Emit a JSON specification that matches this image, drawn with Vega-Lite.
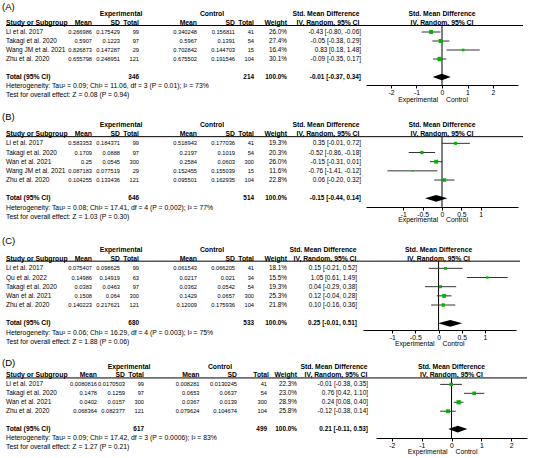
{
"$schema":"https://vega.github.io/schema/vega-lite/v6.json",
"padding":0,
"bounds":"flush",
"spacing":0,
"datasets":{
"studies":[
{"panel":"A","study":"Li et al. 2017","em":0.266986,"esd":0.175429,"et":99,"cm":0.340248,"csd":0.156811,"ct":41,"w":0.26,"smd":-0.43,"lo":-0.80,"hi":-0.06},
{"panel":"A","study":"Takagi et al. 2020","em":0.5907,"esd":0.1223,"et":97,"cm":0.5967,"csd":0.1391,"ct":54,"w":0.274,"smd":-0.05,"lo":-0.38,"hi":0.29},
{"panel":"A","study":"Wang JM et al. 2021","em":0.826873,"esd":0.147287,"et":29,"cm":0.702842,"csd":0.144703,"ct":15,"w":0.164,"smd":0.83,"lo":0.18,"hi":1.48},
{"panel":"A","study":"Zhu et al. 2020","em":0.655798,"esd":0.248951,"et":121,"cm":0.675502,"csd":0.191546,"ct":104,"w":0.301,"smd":-0.09,"lo":-0.35,"hi":0.17},
{"panel":"B","study":"Li et al. 2017","em":0.583353,"esd":0.184371,"et":99,"cm":0.518943,"csd":0.177036,"ct":41,"w":0.193,"smd":0.35,"lo":-0.01,"hi":0.72},
{"panel":"B","study":"Takagi et al. 2020","em":0.1709,"esd":0.0888,"et":97,"cm":0.2197,"csd":0.1019,"ct":54,"w":0.203,"smd":-0.52,"lo":-0.86,"hi":-0.18},
{"panel":"B","study":"Wan et al.  2021","em":0.25,"esd":0.0545,"et":300,"cm":0.2584,"csd":0.0603,"ct":300,"w":0.26,"smd":-0.15,"lo":-0.31,"hi":0.01},
{"panel":"B","study":"Wang JM et al. 2021","em":0.087183,"esd":0.077519,"et":29,"cm":0.152455,"csd":0.155039,"ct":15,"w":0.116,"smd":-0.76,"lo":-1.41,"hi":-0.12},
{"panel":"B","study":"Zhu et al. 2020","em":0.104255,"esd":0.133436,"et":121,"cm":0.095501,"csd":0.162935,"ct":104,"w":0.228,"smd":0.06,"lo":-0.20,"hi":0.32},
{"panel":"C","study":"Li et al. 2017","em":0.075407,"esd":0.098625,"et":99,"cm":0.061543,"csd":0.066205,"ct":41,"w":0.181,"smd":0.15,"lo":-0.21,"hi":0.52},
{"panel":"C","study":"Qu et al. 2022","em":0.14986,"esd":0.14919,"et":63,"cm":0.0217,"csd":0.021,"ct":34,"w":0.155,"smd":1.05,"lo":0.61,"hi":1.49},
{"panel":"C","study":"Takagi et al. 2020","em":0.0383,"esd":0.0463,"et":97,"cm":0.0362,"csd":0.0542,"ct":54,"w":0.193,"smd":0.04,"lo":-0.29,"hi":0.38},
{"panel":"C","study":"Wan et al.  2021","em":0.1508,"esd":0.064,"et":300,"cm":0.1429,"csd":0.0657,"ct":300,"w":0.253,"smd":0.12,"lo":-0.04,"hi":0.28},
{"panel":"C","study":"Zhu et al. 2020","em":0.140223,"esd":0.217621,"et":121,"cm":0.12009,"csd":0.175936,"ct":104,"w":0.218,"smd":0.10,"lo":-0.16,"hi":0.36},
{"panel":"D","study":"Li et al. 2017","em":0.0080816,"esd":0.0170503,"et":99,"cm":0.008281,"csd":0.0130245,"ct":41,"w":0.223,"smd":-0.01,"lo":-0.38,"hi":0.35},
{"panel":"D","study":"Takagi et al. 2020","em":0.1478,"esd":0.1259,"et":97,"cm":0.0653,"csd":0.0637,"ct":54,"w":0.23,"smd":0.76,"lo":0.42,"hi":1.10},
{"panel":"D","study":"Wan et al.  2021","em":0.0402,"esd":0.0157,"et":300,"cm":0.0367,"csd":0.0139,"ct":300,"w":0.289,"smd":0.24,"lo":0.08,"hi":0.40},
{"panel":"D","study":"Zhu et al. 2020","em":0.068364,"esd":0.082377,"et":121,"cm":0.079624,"csd":0.104674,"ct":104,"w":0.258,"smd":-0.12,"lo":-0.38,"hi":0.14}
],
"totals":[
{"panel":"A","study":"Total (95% CI)","et":346,"ct":214,"smd":-0.01,"lo":-0.37,"hi":0.34,"het":"Heterogeneity: Tau² = 0.09; Chi² = 11.06, df = 3 (P = 0.01); I² = 73%","test":"Test for overall effect: Z = 0.08 (P = 0.94)"},
{"panel":"B","study":"Total (95% CI)","et":646,"ct":514,"smd":-0.15,"lo":-0.44,"hi":0.14,"het":"Heterogeneity: Tau² = 0.08; Chi² = 17.41, df = 4 (P = 0.002); I² = 77%","test":"Test for overall effect: Z = 1.03 (P = 0.30)"},
{"panel":"C","study":"Total (95% CI)","et":680,"ct":533,"smd":0.25,"lo":-0.01,"hi":0.51,"het":"Heterogeneity: Tau² = 0.06; Chi² = 16.29, df = 4 (P = 0.003); I² = 75%","test":"Test for overall effect: Z = 1.88 (P = 0.06)"},
{"panel":"D","study":"Total (95% CI)","et":617,"ct":499,"smd":0.21,"lo":-0.11,"hi":0.53,"het":"Heterogeneity: Tau² = 0.09; Chi² = 17.42, df = 3 (P = 0.0006); I² = 83%","test":"Test for overall effect: Z = 1.27 (P = 0.21)"}
]
},
"vconcat":[
{
"width":534,"height":85,
"resolve":{"scale":{"x":"independent"},"axis":{"x":"independent"}},
"layer":[
{"layer":[
{"data":{"name":"studies"},"transform":[{"filter":"datum.panel==='A'"},{"calculate":"replace(replace(replace(format(datum.smd,'.2f')+' ['+format(datum.lo,'.2f')+', '+format(datum.hi,'.2f')+']','−','-'),'−','-'),'−','-')","as":"ci"}],
"encoding":{"y":{"field":"study","type":"nominal","scale":{"type":"point","domain":["h1","h2","Li et al. 2017","Takagi et al. 2020","Wang JM et al. 2021","Zhu et al. 2020","gap","Total (95% CI)","het","test"],"range":[14,95],"padding":0},"axis":null}},
"layer":[
{"mark":{"type":"text","align":"left","fontSize":6.5},"encoding":{"x":{"datum":6,"type":"quantitative","scale":{"domain":[0,534],"range":[0,534],"nice":false,"zero":false},"axis":null},"text":{"field":"study","type":"nominal"}}},
{"mark":{"type":"text","align":"right","fontSize":5.7},"encoding":{"x":{"datum":92,"type":"quantitative","scale":{"domain":[0,534],"range":[0,534],"nice":false,"zero":false},"axis":null},"text":{"field":"em","type":"nominal"}}},
{"mark":{"type":"text","align":"right","fontSize":5.7},"encoding":{"x":{"datum":120,"type":"quantitative","scale":{"domain":[0,534],"range":[0,534],"nice":false,"zero":false},"axis":null},"text":{"field":"esd","type":"nominal"}}},
{"mark":{"type":"text","align":"right","fontSize":5.7},"encoding":{"x":{"datum":139,"type":"quantitative","scale":{"domain":[0,534],"range":[0,534],"nice":false,"zero":false},"axis":null},"text":{"field":"et","type":"nominal"}}},
{"mark":{"type":"text","align":"right","fontSize":5.7},"encoding":{"x":{"datum":197,"type":"quantitative","scale":{"domain":[0,534],"range":[0,534],"nice":false,"zero":false},"axis":null},"text":{"field":"cm","type":"nominal"}}},
{"mark":{"type":"text","align":"right","fontSize":5.7},"encoding":{"x":{"datum":235,"type":"quantitative","scale":{"domain":[0,534],"range":[0,534],"nice":false,"zero":false},"axis":null},"text":{"field":"csd","type":"nominal"}}},
{"mark":{"type":"text","align":"right","fontSize":5.7},"encoding":{"x":{"datum":254,"type":"quantitative","scale":{"domain":[0,534],"range":[0,534],"nice":false,"zero":false},"axis":null},"text":{"field":"ct","type":"nominal"}}},
{"mark":{"type":"text","align":"right","fontSize":6.4},"encoding":{"x":{"datum":287,"type":"quantitative","scale":{"domain":[0,534],"range":[0,534],"nice":false,"zero":false},"axis":null},"text":{"field":"w","type":"quantitative","format":".1%"}}},
{"mark":{"type":"text","align":"right","fontSize":6.4},"encoding":{"x":{"datum":361,"type":"quantitative","scale":{"domain":[0,534],"range":[0,534],"nice":false,"zero":false},"axis":null},"text":{"field":"ci","type":"nominal"}}}
]},
{"data":{"name":"totals"},"transform":[{"filter":"datum.panel==='A'"},{"calculate":"replace(replace(replace(format(datum.smd,'.2f')+' ['+format(datum.lo,'.2f')+', '+format(datum.hi,'.2f')+']','−','-'),'−','-'),'−','-')","as":"ci"}],
"encoding":{"y":{"field":"study","type":"nominal","scale":{"type":"point","domain":["h1","h2","Li et al. 2017","Takagi et al. 2020","Wang JM et al. 2021","Zhu et al. 2020","gap","Total (95% CI)","het","test"],"range":[14,95],"padding":0},"axis":null}},
"layer":[
{"mark":{"type":"text","align":"left","fontWeight":"bold"},"encoding":{"x":{"datum":6,"type":"quantitative","scale":{"domain":[0,534],"range":[0,534],"nice":false,"zero":false},"axis":null},"text":{"field":"study","type":"nominal"}}},
{"mark":{"type":"text","align":"right","fontWeight":"bold","fontSize":6.4},"encoding":{"x":{"datum":139,"type":"quantitative","scale":{"domain":[0,534],"range":[0,534],"nice":false,"zero":false},"axis":null},"text":{"field":"et","type":"nominal"}}},
{"mark":{"type":"text","align":"right","fontWeight":"bold","fontSize":6.4},"encoding":{"x":{"datum":254,"type":"quantitative","scale":{"domain":[0,534],"range":[0,534],"nice":false,"zero":false},"axis":null},"text":{"field":"ct","type":"nominal"}}},
{"mark":{"type":"text","align":"right","fontWeight":"bold","fontSize":6.4,"text":"100.0%"},"encoding":{"x":{"datum":287,"type":"quantitative","scale":{"domain":[0,534],"range":[0,534],"nice":false,"zero":false},"axis":null}}},
{"mark":{"type":"text","align":"right","fontWeight":"bold","fontSize":6.4},"encoding":{"x":{"datum":361,"type":"quantitative","scale":{"domain":[0,534],"range":[0,534],"nice":false,"zero":false},"axis":null},"text":{"field":"ci","type":"nominal"}}},
{"mark":{"type":"text","align":"left"},"encoding":{"x":{"datum":6,"type":"quantitative","scale":{"domain":[0,534],"range":[0,534],"nice":false,"zero":false},"axis":null},"y":{"datum":"het","type":"nominal","scale":{"type":"point","domain":["h1","h2","Li et al. 2017","Takagi et al. 2020","Wang JM et al. 2021","Zhu et al. 2020","gap","Total (95% CI)","het","test"],"range":[14,95],"padding":0},"axis":null},"text":{"field":"het","type":"nominal"}}},
{"mark":{"type":"text","align":"left"},"encoding":{"x":{"datum":6,"type":"quantitative","scale":{"domain":[0,534],"range":[0,534],"nice":false,"zero":false},"axis":null},"y":{"datum":"test","type":"nominal","scale":{"type":"point","domain":["h1","h2","Li et al. 2017","Takagi et al. 2020","Wang JM et al. 2021","Zhu et al. 2020","gap","Total (95% CI)","het","test"],"range":[14,95],"padding":0},"axis":null},"text":{"field":"test","type":"nominal"}}}
]},
{"data":{"values":[{}]},
"encoding":{"y":{"datum":"h2","type":"nominal","scale":{"type":"point","domain":["h1","h2","Li et al. 2017","Takagi et al. 2020","Wang JM et al. 2021","Zhu et al. 2020","gap","Total (95% CI)","het","test"],"range":[14,95],"padding":0},"axis":null}},
"layer":[
{"mark":{"type":"text","text":"(A)","align":"left","fontSize":9.5,"dy":-7},"encoding":{"x":{"datum":2,"type":"quantitative","scale":{"domain":[0,534],"range":[0,534],"nice":false,"zero":false},"axis":null},"y":{"datum":"h1","type":"nominal","scale":{"type":"point","domain":["h1","h2","Li et al. 2017","Takagi et al. 2020","Wang JM et al. 2021","Zhu et al. 2020","gap","Total (95% CI)","het","test"],"range":[14,95],"padding":0},"axis":null}}},
{"mark":{"type":"text","text":"Experimental","align":"center","fontWeight":"bold"},"encoding":{"x":{"datum":121,"type":"quantitative","scale":{"domain":[0,534],"range":[0,534],"nice":false,"zero":false},"axis":null},"y":{"datum":"h1","type":"nominal","scale":{"type":"point","domain":["h1","h2","Li et al. 2017","Takagi et al. 2020","Wang JM et al. 2021","Zhu et al. 2020","gap","Total (95% CI)","het","test"],"range":[14,95],"padding":0},"axis":null}}},
{"mark":{"type":"text","text":"Control","align":"center","fontWeight":"bold"},"encoding":{"x":{"datum":212,"type":"quantitative","scale":{"domain":[0,534],"range":[0,534],"nice":false,"zero":false},"axis":null},"y":{"datum":"h1","type":"nominal","scale":{"type":"point","domain":["h1","h2","Li et al. 2017","Takagi et al. 2020","Wang JM et al. 2021","Zhu et al. 2020","gap","Total (95% CI)","het","test"],"range":[14,95],"padding":0},"axis":null}}},
{"mark":{"type":"text","text":"Std. Mean Difference","align":"center","fontWeight":"bold"},"encoding":{"x":{"datum":326,"type":"quantitative","scale":{"domain":[0,534],"range":[0,534],"nice":false,"zero":false},"axis":null},"y":{"datum":"h1","type":"nominal","scale":{"type":"point","domain":["h1","h2","Li et al. 2017","Takagi et al. 2020","Wang JM et al. 2021","Zhu et al. 2020","gap","Total (95% CI)","het","test"],"range":[14,95],"padding":0},"axis":null}}},
{"mark":{"type":"text","text":"Study or Subgroup","align":"left","fontWeight":"bold"},"encoding":{"x":{"datum":6,"type":"quantitative","scale":{"domain":[0,534],"range":[0,534],"nice":false,"zero":false},"axis":null}}},
{"mark":{"type":"text","text":"Mean","align":"right","fontWeight":"bold"},"encoding":{"x":{"datum":92,"type":"quantitative","scale":{"domain":[0,534],"range":[0,534],"nice":false,"zero":false},"axis":null}}},
{"mark":{"type":"text","text":"SD","align":"right","fontWeight":"bold"},"encoding":{"x":{"datum":120,"type":"quantitative","scale":{"domain":[0,534],"range":[0,534],"nice":false,"zero":false},"axis":null}}},
{"mark":{"type":"text","text":"Total","align":"right","fontWeight":"bold"},"encoding":{"x":{"datum":139,"type":"quantitative","scale":{"domain":[0,534],"range":[0,534],"nice":false,"zero":false},"axis":null}}},
{"mark":{"type":"text","text":"Mean","align":"right","fontWeight":"bold"},"encoding":{"x":{"datum":197,"type":"quantitative","scale":{"domain":[0,534],"range":[0,534],"nice":false,"zero":false},"axis":null}}},
{"mark":{"type":"text","text":"SD","align":"right","fontWeight":"bold"},"encoding":{"x":{"datum":235,"type":"quantitative","scale":{"domain":[0,534],"range":[0,534],"nice":false,"zero":false},"axis":null}}},
{"mark":{"type":"text","text":"Total","align":"right","fontWeight":"bold"},"encoding":{"x":{"datum":254,"type":"quantitative","scale":{"domain":[0,534],"range":[0,534],"nice":false,"zero":false},"axis":null}}},
{"mark":{"type":"text","text":"Weight","align":"right","fontWeight":"bold"},"encoding":{"x":{"datum":287,"type":"quantitative","scale":{"domain":[0,534],"range":[0,534],"nice":false,"zero":false},"axis":null}}},
{"mark":{"type":"text","text":"IV, Random, 95% CI","align":"center","fontWeight":"bold"},"encoding":{"x":{"datum":328,"type":"quantitative","scale":{"domain":[0,534],"range":[0,534],"nice":false,"zero":false},"axis":null}}},
{"mark":{"type":"rule","color":"#000","strokeWidth":1,"yOffset":2.5},"encoding":{"x":{"datum":6,"type":"quantitative","scale":{"domain":[0,534],"range":[0,534],"nice":false,"zero":false},"axis":null},"x2":{"datum":523}}}
]}
]},
{"layer":[
{"data":{"values":[{}]},
"layer":[
{"mark":{"type":"rule","color":"#000","strokeWidth":1,"yOffset":2.5},"encoding":{"x":{"datum":0,"type":"quantitative","scale":{"domain":[-2.98,2.98],"range":[366,518],"nice":false,"zero":false},"axis":{"values":[-2,-1,0,1,2],"format":"~g","labelExpr":"replace(datum.label,'−','-')","title":null,"labelOverlap":false,"labelFlush":false}},"y":{"datum":"h2","type":"nominal","scale":{"type":"point","domain":["h1","h2","Li et al. 2017","Takagi et al. 2020","Wang JM et al. 2021","Zhu et al. 2020","gap","Total (95% CI)","het","test"],"range":[14,95],"padding":0},"axis":null},"y2":{"value":"height"}}},
{"mark":{"type":"text","text":"Std. Mean Difference","align":"center","fontWeight":"bold"},"encoding":{"x":{"datum":0,"type":"quantitative","scale":{"domain":[-2.98,2.98],"range":[366,518],"nice":false,"zero":false}},"y":{"datum":"h1","type":"nominal","scale":{"type":"point","domain":["h1","h2","Li et al. 2017","Takagi et al. 2020","Wang JM et al. 2021","Zhu et al. 2020","gap","Total (95% CI)","het","test"],"range":[14,95],"padding":0},"axis":null}}},
{"mark":{"type":"text","text":"IV, Random, 95% CI","align":"center","fontWeight":"bold"},"encoding":{"x":{"datum":0,"type":"quantitative","scale":{"domain":[-2.98,2.98],"range":[366,518],"nice":false,"zero":false}},"y":{"datum":"h2","type":"nominal","scale":{"type":"point","domain":["h1","h2","Li et al. 2017","Takagi et al. 2020","Wang JM et al. 2021","Zhu et al. 2020","gap","Total (95% CI)","het","test"],"range":[14,95],"padding":0},"axis":null}}},
{"mark":{"type":"text","text":"Experimental","align":"right","dx":-4,"dy":15},"encoding":{"x":{"datum":0,"type":"quantitative","scale":{"domain":[-2.98,2.98],"range":[366,518],"nice":false,"zero":false}},"y":{"value":"height"}}},
{"mark":{"type":"text","text":"Control","align":"left","dx":4,"dy":15},"encoding":{"x":{"datum":0,"type":"quantitative","scale":{"domain":[-2.98,2.98],"range":[366,518],"nice":false,"zero":false}},"y":{"value":"height"}}}
]},
{"data":{"name":"studies"},"transform":[{"filter":"datum.panel==='A'"}],
"encoding":{"y":{"field":"study","type":"nominal","scale":{"type":"point","domain":["h1","h2","Li et al. 2017","Takagi et al. 2020","Wang JM et al. 2021","Zhu et al. 2020","gap","Total (95% CI)","het","test"],"range":[14,95],"padding":0},"axis":null}},
"layer":[
{"mark":{"type":"rule","color":"#333","strokeWidth":1},"encoding":{"x":{"field":"lo","type":"quantitative","scale":{"domain":[-2.98,2.98],"range":[366,518],"nice":false,"zero":false}},"x2":{"field":"hi"}}},
{"mark":{"type":"point","shape":"square","filled":true,"color":"#00b400","opacity":1},"encoding":{"x":{"field":"smd","type":"quantitative","scale":{"domain":[-2.98,2.98],"range":[366,518],"nice":false,"zero":false}},"size":{"field":"w","type":"quantitative","scale":{"domain":[0.1,0.31],"range":[1,20],"zero":false},"legend":null}}}
]},
{"data":{"name":"totals"},"transform":[{"filter":"datum.panel==='A'"}],
"mark":{"type":"point","shape":"M-1,0L0,-0.365L1,0L0,0.365Z","filled":true,"color":"#000","opacity":1,"size":328},
"encoding":{"x":{"field":"smd","type":"quantitative","scale":{"domain":[-2.98,2.98],"range":[366,518],"nice":false,"zero":false}},"y":{"field":"study","type":"nominal","scale":{"type":"point","domain":["h1","h2","Li et al. 2017","Takagi et al. 2020","Wang JM et al. 2021","Zhu et al. 2020","gap","Total (95% CI)","het","test"],"range":[14,95],"padding":0},"axis":null}}}
]}
]
},
{
"width":534,"height":122,
"resolve":{"scale":{"x":"independent"},"axis":{"x":"independent"}},
"layer":[
{"layer":[
{"data":{"name":"studies"},"transform":[{"filter":"datum.panel==='B'"},{"calculate":"replace(replace(replace(format(datum.smd,'.2f')+' ['+format(datum.lo,'.2f')+', '+format(datum.hi,'.2f')+']','−','-'),'−','-'),'−','-')","as":"ci"}],
"encoding":{"y":{"field":"study","type":"nominal","scale":{"type":"point","domain":["h1","h2","Li et al. 2017","Takagi et al. 2020","Wan et al.  2021","Wang JM et al. 2021","Zhu et al. 2020","gap","Total (95% CI)","het","test"],"range":[40,131.7],"padding":0},"axis":null}},
"layer":[
{"mark":{"type":"text","align":"left","fontSize":6.5},"encoding":{"x":{"datum":6,"type":"quantitative","scale":{"domain":[0,534],"range":[0,534],"nice":false,"zero":false},"axis":null},"text":{"field":"study","type":"nominal"}}},
{"mark":{"type":"text","align":"right","fontSize":5.7},"encoding":{"x":{"datum":92,"type":"quantitative","scale":{"domain":[0,534],"range":[0,534],"nice":false,"zero":false},"axis":null},"text":{"field":"em","type":"nominal"}}},
{"mark":{"type":"text","align":"right","fontSize":5.7},"encoding":{"x":{"datum":120,"type":"quantitative","scale":{"domain":[0,534],"range":[0,534],"nice":false,"zero":false},"axis":null},"text":{"field":"esd","type":"nominal"}}},
{"mark":{"type":"text","align":"right","fontSize":5.7},"encoding":{"x":{"datum":139,"type":"quantitative","scale":{"domain":[0,534],"range":[0,534],"nice":false,"zero":false},"axis":null},"text":{"field":"et","type":"nominal"}}},
{"mark":{"type":"text","align":"right","fontSize":5.7},"encoding":{"x":{"datum":197,"type":"quantitative","scale":{"domain":[0,534],"range":[0,534],"nice":false,"zero":false},"axis":null},"text":{"field":"cm","type":"nominal"}}},
{"mark":{"type":"text","align":"right","fontSize":5.7},"encoding":{"x":{"datum":235,"type":"quantitative","scale":{"domain":[0,534],"range":[0,534],"nice":false,"zero":false},"axis":null},"text":{"field":"csd","type":"nominal"}}},
{"mark":{"type":"text","align":"right","fontSize":5.7},"encoding":{"x":{"datum":254,"type":"quantitative","scale":{"domain":[0,534],"range":[0,534],"nice":false,"zero":false},"axis":null},"text":{"field":"ct","type":"nominal"}}},
{"mark":{"type":"text","align":"right","fontSize":6.4},"encoding":{"x":{"datum":287,"type":"quantitative","scale":{"domain":[0,534],"range":[0,534],"nice":false,"zero":false},"axis":null},"text":{"field":"w","type":"quantitative","format":".1%"}}},
{"mark":{"type":"text","align":"right","fontSize":6.4},"encoding":{"x":{"datum":361,"type":"quantitative","scale":{"domain":[0,534],"range":[0,534],"nice":false,"zero":false},"axis":null},"text":{"field":"ci","type":"nominal"}}}
]},
{"data":{"name":"totals"},"transform":[{"filter":"datum.panel==='B'"},{"calculate":"replace(replace(replace(format(datum.smd,'.2f')+' ['+format(datum.lo,'.2f')+', '+format(datum.hi,'.2f')+']','−','-'),'−','-'),'−','-')","as":"ci"}],
"encoding":{"y":{"field":"study","type":"nominal","scale":{"type":"point","domain":["h1","h2","Li et al. 2017","Takagi et al. 2020","Wan et al.  2021","Wang JM et al. 2021","Zhu et al. 2020","gap","Total (95% CI)","het","test"],"range":[40,131.7],"padding":0},"axis":null}},
"layer":[
{"mark":{"type":"text","align":"left","fontWeight":"bold"},"encoding":{"x":{"datum":6,"type":"quantitative","scale":{"domain":[0,534],"range":[0,534],"nice":false,"zero":false},"axis":null},"text":{"field":"study","type":"nominal"}}},
{"mark":{"type":"text","align":"right","fontWeight":"bold","fontSize":6.4},"encoding":{"x":{"datum":139,"type":"quantitative","scale":{"domain":[0,534],"range":[0,534],"nice":false,"zero":false},"axis":null},"text":{"field":"et","type":"nominal"}}},
{"mark":{"type":"text","align":"right","fontWeight":"bold","fontSize":6.4},"encoding":{"x":{"datum":254,"type":"quantitative","scale":{"domain":[0,534],"range":[0,534],"nice":false,"zero":false},"axis":null},"text":{"field":"ct","type":"nominal"}}},
{"mark":{"type":"text","align":"right","fontWeight":"bold","fontSize":6.4,"text":"100.0%"},"encoding":{"x":{"datum":287,"type":"quantitative","scale":{"domain":[0,534],"range":[0,534],"nice":false,"zero":false},"axis":null}}},
{"mark":{"type":"text","align":"right","fontWeight":"bold","fontSize":6.4},"encoding":{"x":{"datum":361,"type":"quantitative","scale":{"domain":[0,534],"range":[0,534],"nice":false,"zero":false},"axis":null},"text":{"field":"ci","type":"nominal"}}},
{"mark":{"type":"text","align":"left"},"encoding":{"x":{"datum":6,"type":"quantitative","scale":{"domain":[0,534],"range":[0,534],"nice":false,"zero":false},"axis":null},"y":{"datum":"het","type":"nominal","scale":{"type":"point","domain":["h1","h2","Li et al. 2017","Takagi et al. 2020","Wan et al.  2021","Wang JM et al. 2021","Zhu et al. 2020","gap","Total (95% CI)","het","test"],"range":[40,131.7],"padding":0},"axis":null},"text":{"field":"het","type":"nominal"}}},
{"mark":{"type":"text","align":"left"},"encoding":{"x":{"datum":6,"type":"quantitative","scale":{"domain":[0,534],"range":[0,534],"nice":false,"zero":false},"axis":null},"y":{"datum":"test","type":"nominal","scale":{"type":"point","domain":["h1","h2","Li et al. 2017","Takagi et al. 2020","Wan et al.  2021","Wang JM et al. 2021","Zhu et al. 2020","gap","Total (95% CI)","het","test"],"range":[40,131.7],"padding":0},"axis":null},"text":{"field":"test","type":"nominal"}}}
]},
{"data":{"values":[{}]},
"encoding":{"y":{"datum":"h2","type":"nominal","scale":{"type":"point","domain":["h1","h2","Li et al. 2017","Takagi et al. 2020","Wan et al.  2021","Wang JM et al. 2021","Zhu et al. 2020","gap","Total (95% CI)","het","test"],"range":[40,131.7],"padding":0},"axis":null}},
"layer":[
{"mark":{"type":"text","text":"(B)","align":"left","fontSize":9.5,"dy":-8},"encoding":{"x":{"datum":2,"type":"quantitative","scale":{"domain":[0,534],"range":[0,534],"nice":false,"zero":false},"axis":null},"y":{"datum":"h1","type":"nominal","scale":{"type":"point","domain":["h1","h2","Li et al. 2017","Takagi et al. 2020","Wan et al.  2021","Wang JM et al. 2021","Zhu et al. 2020","gap","Total (95% CI)","het","test"],"range":[40,131.7],"padding":0},"axis":null}}},
{"mark":{"type":"text","text":"Experimental","align":"center","fontWeight":"bold"},"encoding":{"x":{"datum":121,"type":"quantitative","scale":{"domain":[0,534],"range":[0,534],"nice":false,"zero":false},"axis":null},"y":{"datum":"h1","type":"nominal","scale":{"type":"point","domain":["h1","h2","Li et al. 2017","Takagi et al. 2020","Wan et al.  2021","Wang JM et al. 2021","Zhu et al. 2020","gap","Total (95% CI)","het","test"],"range":[40,131.7],"padding":0},"axis":null}}},
{"mark":{"type":"text","text":"Control","align":"center","fontWeight":"bold"},"encoding":{"x":{"datum":212,"type":"quantitative","scale":{"domain":[0,534],"range":[0,534],"nice":false,"zero":false},"axis":null},"y":{"datum":"h1","type":"nominal","scale":{"type":"point","domain":["h1","h2","Li et al. 2017","Takagi et al. 2020","Wan et al.  2021","Wang JM et al. 2021","Zhu et al. 2020","gap","Total (95% CI)","het","test"],"range":[40,131.7],"padding":0},"axis":null}}},
{"mark":{"type":"text","text":"Std. Mean Difference","align":"center","fontWeight":"bold"},"encoding":{"x":{"datum":326,"type":"quantitative","scale":{"domain":[0,534],"range":[0,534],"nice":false,"zero":false},"axis":null},"y":{"datum":"h1","type":"nominal","scale":{"type":"point","domain":["h1","h2","Li et al. 2017","Takagi et al. 2020","Wan et al.  2021","Wang JM et al. 2021","Zhu et al. 2020","gap","Total (95% CI)","het","test"],"range":[40,131.7],"padding":0},"axis":null}}},
{"mark":{"type":"text","text":"Study or Subgroup","align":"left","fontWeight":"bold"},"encoding":{"x":{"datum":6,"type":"quantitative","scale":{"domain":[0,534],"range":[0,534],"nice":false,"zero":false},"axis":null}}},
{"mark":{"type":"text","text":"Mean","align":"right","fontWeight":"bold"},"encoding":{"x":{"datum":92,"type":"quantitative","scale":{"domain":[0,534],"range":[0,534],"nice":false,"zero":false},"axis":null}}},
{"mark":{"type":"text","text":"SD","align":"right","fontWeight":"bold"},"encoding":{"x":{"datum":120,"type":"quantitative","scale":{"domain":[0,534],"range":[0,534],"nice":false,"zero":false},"axis":null}}},
{"mark":{"type":"text","text":"Total","align":"right","fontWeight":"bold"},"encoding":{"x":{"datum":139,"type":"quantitative","scale":{"domain":[0,534],"range":[0,534],"nice":false,"zero":false},"axis":null}}},
{"mark":{"type":"text","text":"Mean","align":"right","fontWeight":"bold"},"encoding":{"x":{"datum":197,"type":"quantitative","scale":{"domain":[0,534],"range":[0,534],"nice":false,"zero":false},"axis":null}}},
{"mark":{"type":"text","text":"SD","align":"right","fontWeight":"bold"},"encoding":{"x":{"datum":235,"type":"quantitative","scale":{"domain":[0,534],"range":[0,534],"nice":false,"zero":false},"axis":null}}},
{"mark":{"type":"text","text":"Total","align":"right","fontWeight":"bold"},"encoding":{"x":{"datum":254,"type":"quantitative","scale":{"domain":[0,534],"range":[0,534],"nice":false,"zero":false},"axis":null}}},
{"mark":{"type":"text","text":"Weight","align":"right","fontWeight":"bold"},"encoding":{"x":{"datum":287,"type":"quantitative","scale":{"domain":[0,534],"range":[0,534],"nice":false,"zero":false},"axis":null}}},
{"mark":{"type":"text","text":"IV, Random, 95% CI","align":"center","fontWeight":"bold"},"encoding":{"x":{"datum":328,"type":"quantitative","scale":{"domain":[0,534],"range":[0,534],"nice":false,"zero":false},"axis":null}}},
{"mark":{"type":"rule","color":"#000","strokeWidth":1,"yOffset":2.5},"encoding":{"x":{"datum":6,"type":"quantitative","scale":{"domain":[0,534],"range":[0,534],"nice":false,"zero":false},"axis":null},"x2":{"datum":523}}}
]}
]},
{"layer":[
{"data":{"values":[{}]},
"layer":[
{"mark":{"type":"rule","color":"#000","strokeWidth":1,"yOffset":2.5},"encoding":{"x":{"datum":0,"type":"quantitative","scale":{"domain":[-1.964,1.964],"range":[366,518],"nice":false,"zero":false},"axis":{"values":[-1,-0.5,0,0.5,1],"format":"~g","labelExpr":"replace(datum.label,'−','-')","title":null,"labelOverlap":false,"labelFlush":false}},"y":{"datum":"h2","type":"nominal","scale":{"type":"point","domain":["h1","h2","Li et al. 2017","Takagi et al. 2020","Wan et al.  2021","Wang JM et al. 2021","Zhu et al. 2020","gap","Total (95% CI)","het","test"],"range":[40,131.7],"padding":0},"axis":null},"y2":{"value":"height"}}},
{"mark":{"type":"text","text":"Std. Mean Difference","align":"center","fontWeight":"bold"},"encoding":{"x":{"datum":0,"type":"quantitative","scale":{"domain":[-1.964,1.964],"range":[366,518],"nice":false,"zero":false}},"y":{"datum":"h1","type":"nominal","scale":{"type":"point","domain":["h1","h2","Li et al. 2017","Takagi et al. 2020","Wan et al.  2021","Wang JM et al. 2021","Zhu et al. 2020","gap","Total (95% CI)","het","test"],"range":[40,131.7],"padding":0},"axis":null}}},
{"mark":{"type":"text","text":"IV, Random, 95% CI","align":"center","fontWeight":"bold"},"encoding":{"x":{"datum":0,"type":"quantitative","scale":{"domain":[-1.964,1.964],"range":[366,518],"nice":false,"zero":false}},"y":{"datum":"h2","type":"nominal","scale":{"type":"point","domain":["h1","h2","Li et al. 2017","Takagi et al. 2020","Wan et al.  2021","Wang JM et al. 2021","Zhu et al. 2020","gap","Total (95% CI)","het","test"],"range":[40,131.7],"padding":0},"axis":null}}},
{"mark":{"type":"text","text":"Experimental","align":"right","dx":-4,"dy":13},"encoding":{"x":{"datum":0,"type":"quantitative","scale":{"domain":[-1.964,1.964],"range":[366,518],"nice":false,"zero":false}},"y":{"value":"height"}}},
{"mark":{"type":"text","text":"Control","align":"left","dx":4,"dy":13},"encoding":{"x":{"datum":0,"type":"quantitative","scale":{"domain":[-1.964,1.964],"range":[366,518],"nice":false,"zero":false}},"y":{"value":"height"}}}
]},
{"data":{"name":"studies"},"transform":[{"filter":"datum.panel==='B'"}],
"encoding":{"y":{"field":"study","type":"nominal","scale":{"type":"point","domain":["h1","h2","Li et al. 2017","Takagi et al. 2020","Wan et al.  2021","Wang JM et al. 2021","Zhu et al. 2020","gap","Total (95% CI)","het","test"],"range":[40,131.7],"padding":0},"axis":null}},
"layer":[
{"mark":{"type":"rule","color":"#333","strokeWidth":1},"encoding":{"x":{"field":"lo","type":"quantitative","scale":{"domain":[-1.964,1.964],"range":[366,518],"nice":false,"zero":false}},"x2":{"field":"hi"}}},
{"mark":{"type":"point","shape":"square","filled":true,"color":"#00b400","opacity":1},"encoding":{"x":{"field":"smd","type":"quantitative","scale":{"domain":[-1.964,1.964],"range":[366,518],"nice":false,"zero":false}},"size":{"field":"w","type":"quantitative","scale":{"domain":[0.1,0.31],"range":[1,20],"zero":false},"legend":null}}}
]},
{"data":{"name":"totals"},"transform":[{"filter":"datum.panel==='B'"}],
"mark":{"type":"point","shape":"M-1,0L0,-0.295L1,0L0,0.295Z","filled":true,"color":"#000","opacity":1,"size":502},
"encoding":{"x":{"field":"smd","type":"quantitative","scale":{"domain":[-1.964,1.964],"range":[366,518],"nice":false,"zero":false}},"y":{"field":"study","type":"nominal","scale":{"type":"point","domain":["h1","h2","Li et al. 2017","Takagi et al. 2020","Wan et al.  2021","Wang JM et al. 2021","Zhu et al. 2020","gap","Total (95% CI)","het","test"],"range":[40,131.7],"padding":0},"axis":null}}}
]}
]
},
{
"width":534,"height":123,
"resolve":{"scale":{"x":"independent"},"axis":{"x":"independent"}},
"layer":[
{"layer":[
{"data":{"name":"studies"},"transform":[{"filter":"datum.panel==='C'"},{"calculate":"replace(replace(replace(format(datum.smd,'.2f')+' ['+format(datum.lo,'.2f')+', '+format(datum.hi,'.2f')+']','−','-'),'−','-'),'−','-')","as":"ci"}],
"encoding":{"y":{"field":"study","type":"nominal","scale":{"type":"point","domain":["h1","h2","Li et al. 2017","Qu et al. 2022","Takagi et al. 2020","Wan et al.  2021","Zhu et al. 2020","gap","Total (95% CI)","het","test"],"range":[43,134.7],"padding":0},"axis":null}},
"layer":[
{"mark":{"type":"text","align":"left","fontSize":6.5},"encoding":{"x":{"datum":6,"type":"quantitative","scale":{"domain":[0,534],"range":[0,534],"nice":false,"zero":false},"axis":null},"text":{"field":"study","type":"nominal"}}},
{"mark":{"type":"text","align":"right","fontSize":5.7},"encoding":{"x":{"datum":92,"type":"quantitative","scale":{"domain":[0,534],"range":[0,534],"nice":false,"zero":false},"axis":null},"text":{"field":"em","type":"nominal"}}},
{"mark":{"type":"text","align":"right","fontSize":5.7},"encoding":{"x":{"datum":120,"type":"quantitative","scale":{"domain":[0,534],"range":[0,534],"nice":false,"zero":false},"axis":null},"text":{"field":"esd","type":"nominal"}}},
{"mark":{"type":"text","align":"right","fontSize":5.7},"encoding":{"x":{"datum":139,"type":"quantitative","scale":{"domain":[0,534],"range":[0,534],"nice":false,"zero":false},"axis":null},"text":{"field":"et","type":"nominal"}}},
{"mark":{"type":"text","align":"right","fontSize":5.7},"encoding":{"x":{"datum":197,"type":"quantitative","scale":{"domain":[0,534],"range":[0,534],"nice":false,"zero":false},"axis":null},"text":{"field":"cm","type":"nominal"}}},
{"mark":{"type":"text","align":"right","fontSize":5.7},"encoding":{"x":{"datum":235,"type":"quantitative","scale":{"domain":[0,534],"range":[0,534],"nice":false,"zero":false},"axis":null},"text":{"field":"csd","type":"nominal"}}},
{"mark":{"type":"text","align":"right","fontSize":5.7},"encoding":{"x":{"datum":254,"type":"quantitative","scale":{"domain":[0,534],"range":[0,534],"nice":false,"zero":false},"axis":null},"text":{"field":"ct","type":"nominal"}}},
{"mark":{"type":"text","align":"right","fontSize":6.4},"encoding":{"x":{"datum":287,"type":"quantitative","scale":{"domain":[0,534],"range":[0,534],"nice":false,"zero":false},"axis":null},"text":{"field":"w","type":"quantitative","format":".1%"}}},
{"mark":{"type":"text","align":"right","fontSize":6.4},"encoding":{"x":{"datum":357,"type":"quantitative","scale":{"domain":[0,534],"range":[0,534],"nice":false,"zero":false},"axis":null},"text":{"field":"ci","type":"nominal"}}}
]},
{"data":{"name":"totals"},"transform":[{"filter":"datum.panel==='C'"},{"calculate":"replace(replace(replace(format(datum.smd,'.2f')+' ['+format(datum.lo,'.2f')+', '+format(datum.hi,'.2f')+']','−','-'),'−','-'),'−','-')","as":"ci"}],
"encoding":{"y":{"field":"study","type":"nominal","scale":{"type":"point","domain":["h1","h2","Li et al. 2017","Qu et al. 2022","Takagi et al. 2020","Wan et al.  2021","Zhu et al. 2020","gap","Total (95% CI)","het","test"],"range":[43,134.7],"padding":0},"axis":null}},
"layer":[
{"mark":{"type":"text","align":"left","fontWeight":"bold"},"encoding":{"x":{"datum":6,"type":"quantitative","scale":{"domain":[0,534],"range":[0,534],"nice":false,"zero":false},"axis":null},"text":{"field":"study","type":"nominal"}}},
{"mark":{"type":"text","align":"right","fontWeight":"bold","fontSize":6.4},"encoding":{"x":{"datum":139,"type":"quantitative","scale":{"domain":[0,534],"range":[0,534],"nice":false,"zero":false},"axis":null},"text":{"field":"et","type":"nominal"}}},
{"mark":{"type":"text","align":"right","fontWeight":"bold","fontSize":6.4},"encoding":{"x":{"datum":254,"type":"quantitative","scale":{"domain":[0,534],"range":[0,534],"nice":false,"zero":false},"axis":null},"text":{"field":"ct","type":"nominal"}}},
{"mark":{"type":"text","align":"right","fontWeight":"bold","fontSize":6.4,"text":"100.0%"},"encoding":{"x":{"datum":287,"type":"quantitative","scale":{"domain":[0,534],"range":[0,534],"nice":false,"zero":false},"axis":null}}},
{"mark":{"type":"text","align":"right","fontWeight":"bold","fontSize":6.4},"encoding":{"x":{"datum":357,"type":"quantitative","scale":{"domain":[0,534],"range":[0,534],"nice":false,"zero":false},"axis":null},"text":{"field":"ci","type":"nominal"}}},
{"mark":{"type":"text","align":"left"},"encoding":{"x":{"datum":6,"type":"quantitative","scale":{"domain":[0,534],"range":[0,534],"nice":false,"zero":false},"axis":null},"y":{"datum":"het","type":"nominal","scale":{"type":"point","domain":["h1","h2","Li et al. 2017","Qu et al. 2022","Takagi et al. 2020","Wan et al.  2021","Zhu et al. 2020","gap","Total (95% CI)","het","test"],"range":[43,134.7],"padding":0},"axis":null},"text":{"field":"het","type":"nominal"}}},
{"mark":{"type":"text","align":"left"},"encoding":{"x":{"datum":6,"type":"quantitative","scale":{"domain":[0,534],"range":[0,534],"nice":false,"zero":false},"axis":null},"y":{"datum":"test","type":"nominal","scale":{"type":"point","domain":["h1","h2","Li et al. 2017","Qu et al. 2022","Takagi et al. 2020","Wan et al.  2021","Zhu et al. 2020","gap","Total (95% CI)","het","test"],"range":[43,134.7],"padding":0},"axis":null},"text":{"field":"test","type":"nominal"}}}
]},
{"data":{"values":[{}]},
"encoding":{"y":{"datum":"h2","type":"nominal","scale":{"type":"point","domain":["h1","h2","Li et al. 2017","Qu et al. 2022","Takagi et al. 2020","Wan et al.  2021","Zhu et al. 2020","gap","Total (95% CI)","het","test"],"range":[43,134.7],"padding":0},"axis":null}},
"layer":[
{"mark":{"type":"text","text":"(C)","align":"left","fontSize":9.5,"dy":-9.5},"encoding":{"x":{"datum":2,"type":"quantitative","scale":{"domain":[0,534],"range":[0,534],"nice":false,"zero":false},"axis":null},"y":{"datum":"h1","type":"nominal","scale":{"type":"point","domain":["h1","h2","Li et al. 2017","Qu et al. 2022","Takagi et al. 2020","Wan et al.  2021","Zhu et al. 2020","gap","Total (95% CI)","het","test"],"range":[43,134.7],"padding":0},"axis":null}}},
{"mark":{"type":"text","text":"Experimental","align":"center","fontWeight":"bold"},"encoding":{"x":{"datum":121,"type":"quantitative","scale":{"domain":[0,534],"range":[0,534],"nice":false,"zero":false},"axis":null},"y":{"datum":"h1","type":"nominal","scale":{"type":"point","domain":["h1","h2","Li et al. 2017","Qu et al. 2022","Takagi et al. 2020","Wan et al.  2021","Zhu et al. 2020","gap","Total (95% CI)","het","test"],"range":[43,134.7],"padding":0},"axis":null}}},
{"mark":{"type":"text","text":"Control","align":"center","fontWeight":"bold"},"encoding":{"x":{"datum":212,"type":"quantitative","scale":{"domain":[0,534],"range":[0,534],"nice":false,"zero":false},"axis":null},"y":{"datum":"h1","type":"nominal","scale":{"type":"point","domain":["h1","h2","Li et al. 2017","Qu et al. 2022","Takagi et al. 2020","Wan et al.  2021","Zhu et al. 2020","gap","Total (95% CI)","het","test"],"range":[43,134.7],"padding":0},"axis":null}}},
{"mark":{"type":"text","text":"Std. Mean Difference","align":"center","fontWeight":"bold"},"encoding":{"x":{"datum":323,"type":"quantitative","scale":{"domain":[0,534],"range":[0,534],"nice":false,"zero":false},"axis":null},"y":{"datum":"h1","type":"nominal","scale":{"type":"point","domain":["h1","h2","Li et al. 2017","Qu et al. 2022","Takagi et al. 2020","Wan et al.  2021","Zhu et al. 2020","gap","Total (95% CI)","het","test"],"range":[43,134.7],"padding":0},"axis":null}}},
{"mark":{"type":"text","text":"Study or Subgroup","align":"left","fontWeight":"bold"},"encoding":{"x":{"datum":6,"type":"quantitative","scale":{"domain":[0,534],"range":[0,534],"nice":false,"zero":false},"axis":null}}},
{"mark":{"type":"text","text":"Mean","align":"right","fontWeight":"bold"},"encoding":{"x":{"datum":92,"type":"quantitative","scale":{"domain":[0,534],"range":[0,534],"nice":false,"zero":false},"axis":null}}},
{"mark":{"type":"text","text":"SD","align":"right","fontWeight":"bold"},"encoding":{"x":{"datum":120,"type":"quantitative","scale":{"domain":[0,534],"range":[0,534],"nice":false,"zero":false},"axis":null}}},
{"mark":{"type":"text","text":"Total","align":"right","fontWeight":"bold"},"encoding":{"x":{"datum":139,"type":"quantitative","scale":{"domain":[0,534],"range":[0,534],"nice":false,"zero":false},"axis":null}}},
{"mark":{"type":"text","text":"Mean","align":"right","fontWeight":"bold"},"encoding":{"x":{"datum":197,"type":"quantitative","scale":{"domain":[0,534],"range":[0,534],"nice":false,"zero":false},"axis":null}}},
{"mark":{"type":"text","text":"SD","align":"right","fontWeight":"bold"},"encoding":{"x":{"datum":235,"type":"quantitative","scale":{"domain":[0,534],"range":[0,534],"nice":false,"zero":false},"axis":null}}},
{"mark":{"type":"text","text":"Total","align":"right","fontWeight":"bold"},"encoding":{"x":{"datum":254,"type":"quantitative","scale":{"domain":[0,534],"range":[0,534],"nice":false,"zero":false},"axis":null}}},
{"mark":{"type":"text","text":"Weight","align":"right","fontWeight":"bold"},"encoding":{"x":{"datum":287,"type":"quantitative","scale":{"domain":[0,534],"range":[0,534],"nice":false,"zero":false},"axis":null}}},
{"mark":{"type":"text","text":"IV, Random, 95% CI","align":"center","fontWeight":"bold"},"encoding":{"x":{"datum":325,"type":"quantitative","scale":{"domain":[0,534],"range":[0,534],"nice":false,"zero":false},"axis":null}}},
{"mark":{"type":"rule","color":"#000","strokeWidth":1,"yOffset":2},"encoding":{"x":{"datum":6,"type":"quantitative","scale":{"domain":[0,534],"range":[0,534],"nice":false,"zero":false},"axis":null},"x2":{"datum":520}}}
]}
]},
{"layer":[
{"data":{"values":[{}]},
"layer":[
{"mark":{"type":"rule","color":"#000","strokeWidth":1,"yOffset":2},"encoding":{"x":{"datum":0,"type":"quantitative","scale":{"domain":[-1.63,1.67],"range":[363,516],"nice":false,"zero":false},"axis":{"values":[-1,-0.5,0,0.5,1],"format":"~g","labelExpr":"replace(datum.label,'−','-')","title":null,"labelOverlap":false,"labelFlush":false}},"y":{"datum":"h2","type":"nominal","scale":{"type":"point","domain":["h1","h2","Li et al. 2017","Qu et al. 2022","Takagi et al. 2020","Wan et al.  2021","Zhu et al. 2020","gap","Total (95% CI)","het","test"],"range":[43,134.7],"padding":0},"axis":null},"y2":{"value":"height"}}},
{"mark":{"type":"text","text":"Std. Mean Difference","align":"center","fontWeight":"bold"},"encoding":{"x":{"datum":0,"type":"quantitative","scale":{"domain":[-1.63,1.67],"range":[363,516],"nice":false,"zero":false}},"y":{"datum":"h1","type":"nominal","scale":{"type":"point","domain":["h1","h2","Li et al. 2017","Qu et al. 2022","Takagi et al. 2020","Wan et al.  2021","Zhu et al. 2020","gap","Total (95% CI)","het","test"],"range":[43,134.7],"padding":0},"axis":null}}},
{"mark":{"type":"text","text":"IV, Random, 95% CI","align":"center","fontWeight":"bold"},"encoding":{"x":{"datum":0,"type":"quantitative","scale":{"domain":[-1.63,1.67],"range":[363,516],"nice":false,"zero":false}},"y":{"datum":"h2","type":"nominal","scale":{"type":"point","domain":["h1","h2","Li et al. 2017","Qu et al. 2022","Takagi et al. 2020","Wan et al.  2021","Zhu et al. 2020","gap","Total (95% CI)","het","test"],"range":[43,134.7],"padding":0},"axis":null}}},
{"mark":{"type":"text","text":"Experimental","align":"right","dx":-4,"dy":14},"encoding":{"x":{"datum":0,"type":"quantitative","scale":{"domain":[-1.63,1.67],"range":[363,516],"nice":false,"zero":false}},"y":{"value":"height"}}},
{"mark":{"type":"text","text":"Control","align":"left","dx":4,"dy":14},"encoding":{"x":{"datum":0,"type":"quantitative","scale":{"domain":[-1.63,1.67],"range":[363,516],"nice":false,"zero":false}},"y":{"value":"height"}}}
]},
{"data":{"name":"studies"},"transform":[{"filter":"datum.panel==='C'"}],
"encoding":{"y":{"field":"study","type":"nominal","scale":{"type":"point","domain":["h1","h2","Li et al. 2017","Qu et al. 2022","Takagi et al. 2020","Wan et al.  2021","Zhu et al. 2020","gap","Total (95% CI)","het","test"],"range":[43,134.7],"padding":0},"axis":null}},
"layer":[
{"mark":{"type":"rule","color":"#333","strokeWidth":1},"encoding":{"x":{"field":"lo","type":"quantitative","scale":{"domain":[-1.63,1.67],"range":[363,516],"nice":false,"zero":false}},"x2":{"field":"hi"}}},
{"mark":{"type":"point","shape":"square","filled":true,"color":"#00b400","opacity":1},"encoding":{"x":{"field":"smd","type":"quantitative","scale":{"domain":[-1.63,1.67],"range":[363,516],"nice":false,"zero":false}},"size":{"field":"w","type":"quantitative","scale":{"domain":[0.1,0.31],"range":[1,20],"zero":false},"legend":null}}}
]},
{"data":{"name":"totals"},"transform":[{"filter":"datum.panel==='C'"}],
"mark":{"type":"point","shape":"M-1,0L0,-0.274L1,0L0,0.274Z","filled":true,"color":"#000","opacity":1,"size":581},
"encoding":{"x":{"field":"smd","type":"quantitative","scale":{"domain":[-1.63,1.67],"range":[363,516],"nice":false,"zero":false}},"y":{"field":"study","type":"nominal","scale":{"type":"point","domain":["h1","h2","Li et al. 2017","Qu et al. 2022","Takagi et al. 2020","Wan et al.  2021","Zhu et al. 2020","gap","Total (95% CI)","het","test"],"range":[43,134.7],"padding":0},"axis":null}}}
]}
]
},
{
"width":534,"height":108,
"resolve":{"scale":{"x":"independent"},"axis":{"x":"independent"}},
"layer":[
{"layer":[
{"data":{"name":"studies"},"transform":[{"filter":"datum.panel==='D'"},{"calculate":"replace(replace(replace(format(datum.smd,'.2f')+' ['+format(datum.lo,'.2f')+', '+format(datum.hi,'.2f')+']','−','-'),'−','-'),'−','-')","as":"ci"}],
"encoding":{"y":{"field":"study","type":"nominal","scale":{"type":"point","domain":["h1","h2","Li et al. 2017","Takagi et al. 2020","Wan et al.  2021","Zhu et al. 2020","gap","Total (95% CI)","het","test"],"range":[36.5,117],"padding":0},"axis":null}},
"layer":[
{"mark":{"type":"text","align":"left","fontSize":6.5},"encoding":{"x":{"datum":6,"type":"quantitative","scale":{"domain":[0,534],"range":[0,534],"nice":false,"zero":false},"axis":null},"text":{"field":"study","type":"nominal"}}},
{"mark":{"type":"text","align":"right","fontSize":5.7},"encoding":{"x":{"datum":97,"type":"quantitative","scale":{"domain":[0,534],"range":[0,534],"nice":false,"zero":false},"axis":null},"text":{"field":"em","type":"nominal"}}},
{"mark":{"type":"text","align":"right","fontSize":5.7},"encoding":{"x":{"datum":125,"type":"quantitative","scale":{"domain":[0,534],"range":[0,534],"nice":false,"zero":false},"axis":null},"text":{"field":"esd","type":"nominal"}}},
{"mark":{"type":"text","align":"right","fontSize":5.7},"encoding":{"x":{"datum":144,"type":"quantitative","scale":{"domain":[0,534],"range":[0,534],"nice":false,"zero":false},"axis":null},"text":{"field":"et","type":"nominal"}}},
{"mark":{"type":"text","align":"right","fontSize":5.7},"encoding":{"x":{"datum":199.5,"type":"quantitative","scale":{"domain":[0,534],"range":[0,534],"nice":false,"zero":false},"axis":null},"text":{"field":"cm","type":"nominal"}}},
{"mark":{"type":"text","align":"right","fontSize":5.7},"encoding":{"x":{"datum":237,"type":"quantitative","scale":{"domain":[0,534],"range":[0,534],"nice":false,"zero":false},"axis":null},"text":{"field":"csd","type":"nominal"}}},
{"mark":{"type":"text","align":"right","fontSize":5.7},"encoding":{"x":{"datum":267,"type":"quantitative","scale":{"domain":[0,534],"range":[0,534],"nice":false,"zero":false},"axis":null},"text":{"field":"ct","type":"nominal"}}},
{"mark":{"type":"text","align":"right","fontSize":6.4},"encoding":{"x":{"datum":297,"type":"quantitative","scale":{"domain":[0,534],"range":[0,534],"nice":false,"zero":false},"axis":null},"text":{"field":"w","type":"quantitative","format":".1%"}}},
{"mark":{"type":"text","align":"right","fontSize":6.4},"encoding":{"x":{"datum":368,"type":"quantitative","scale":{"domain":[0,534],"range":[0,534],"nice":false,"zero":false},"axis":null},"text":{"field":"ci","type":"nominal"}}}
]},
{"data":{"name":"totals"},"transform":[{"filter":"datum.panel==='D'"},{"calculate":"replace(replace(replace(format(datum.smd,'.2f')+' ['+format(datum.lo,'.2f')+', '+format(datum.hi,'.2f')+']','−','-'),'−','-'),'−','-')","as":"ci"}],
"encoding":{"y":{"field":"study","type":"nominal","scale":{"type":"point","domain":["h1","h2","Li et al. 2017","Takagi et al. 2020","Wan et al.  2021","Zhu et al. 2020","gap","Total (95% CI)","het","test"],"range":[36.5,117],"padding":0},"axis":null}},
"layer":[
{"mark":{"type":"text","align":"left","fontWeight":"bold"},"encoding":{"x":{"datum":6,"type":"quantitative","scale":{"domain":[0,534],"range":[0,534],"nice":false,"zero":false},"axis":null},"text":{"field":"study","type":"nominal"}}},
{"mark":{"type":"text","align":"right","fontWeight":"bold","fontSize":6.4},"encoding":{"x":{"datum":144,"type":"quantitative","scale":{"domain":[0,534],"range":[0,534],"nice":false,"zero":false},"axis":null},"text":{"field":"et","type":"nominal"}}},
{"mark":{"type":"text","align":"right","fontWeight":"bold","fontSize":6.4},"encoding":{"x":{"datum":267,"type":"quantitative","scale":{"domain":[0,534],"range":[0,534],"nice":false,"zero":false},"axis":null},"text":{"field":"ct","type":"nominal"}}},
{"mark":{"type":"text","align":"right","fontWeight":"bold","fontSize":6.4,"text":"100.0%"},"encoding":{"x":{"datum":297,"type":"quantitative","scale":{"domain":[0,534],"range":[0,534],"nice":false,"zero":false},"axis":null}}},
{"mark":{"type":"text","align":"right","fontWeight":"bold","fontSize":6.4},"encoding":{"x":{"datum":368,"type":"quantitative","scale":{"domain":[0,534],"range":[0,534],"nice":false,"zero":false},"axis":null},"text":{"field":"ci","type":"nominal"}}},
{"mark":{"type":"text","align":"left"},"encoding":{"x":{"datum":6,"type":"quantitative","scale":{"domain":[0,534],"range":[0,534],"nice":false,"zero":false},"axis":null},"y":{"datum":"het","type":"nominal","scale":{"type":"point","domain":["h1","h2","Li et al. 2017","Takagi et al. 2020","Wan et al.  2021","Zhu et al. 2020","gap","Total (95% CI)","het","test"],"range":[36.5,117],"padding":0},"axis":null},"text":{"field":"het","type":"nominal"}}},
{"mark":{"type":"text","align":"left"},"encoding":{"x":{"datum":6,"type":"quantitative","scale":{"domain":[0,534],"range":[0,534],"nice":false,"zero":false},"axis":null},"y":{"datum":"test","type":"nominal","scale":{"type":"point","domain":["h1","h2","Li et al. 2017","Takagi et al. 2020","Wan et al.  2021","Zhu et al. 2020","gap","Total (95% CI)","het","test"],"range":[36.5,117],"padding":0},"axis":null},"text":{"field":"test","type":"nominal"}}}
]},
{"data":{"values":[{}]},
"encoding":{"y":{"datum":"h2","type":"nominal","scale":{"type":"point","domain":["h1","h2","Li et al. 2017","Takagi et al. 2020","Wan et al.  2021","Zhu et al. 2020","gap","Total (95% CI)","het","test"],"range":[36.5,117],"padding":0},"axis":null}},
"layer":[
{"mark":{"type":"text","text":"(D)","align":"left","fontSize":9.5,"dy":-4},"encoding":{"x":{"datum":2,"type":"quantitative","scale":{"domain":[0,534],"range":[0,534],"nice":false,"zero":false},"axis":null},"y":{"datum":"h1","type":"nominal","scale":{"type":"point","domain":["h1","h2","Li et al. 2017","Takagi et al. 2020","Wan et al.  2021","Zhu et al. 2020","gap","Total (95% CI)","het","test"],"range":[36.5,117],"padding":0},"axis":null}}},
{"mark":{"type":"text","text":"Experimental","align":"center","fontWeight":"bold"},"encoding":{"x":{"datum":129,"type":"quantitative","scale":{"domain":[0,534],"range":[0,534],"nice":false,"zero":false},"axis":null},"y":{"datum":"h1","type":"nominal","scale":{"type":"point","domain":["h1","h2","Li et al. 2017","Takagi et al. 2020","Wan et al.  2021","Zhu et al. 2020","gap","Total (95% CI)","het","test"],"range":[36.5,117],"padding":0},"axis":null}}},
{"mark":{"type":"text","text":"Control","align":"center","fontWeight":"bold"},"encoding":{"x":{"datum":220,"type":"quantitative","scale":{"domain":[0,534],"range":[0,534],"nice":false,"zero":false},"axis":null},"y":{"datum":"h1","type":"nominal","scale":{"type":"point","domain":["h1","h2","Li et al. 2017","Takagi et al. 2020","Wan et al.  2021","Zhu et al. 2020","gap","Total (95% CI)","het","test"],"range":[36.5,117],"padding":0},"axis":null}}},
{"mark":{"type":"text","text":"Std. Mean Difference","align":"center","fontWeight":"bold"},"encoding":{"x":{"datum":334,"type":"quantitative","scale":{"domain":[0,534],"range":[0,534],"nice":false,"zero":false},"axis":null},"y":{"datum":"h1","type":"nominal","scale":{"type":"point","domain":["h1","h2","Li et al. 2017","Takagi et al. 2020","Wan et al.  2021","Zhu et al. 2020","gap","Total (95% CI)","het","test"],"range":[36.5,117],"padding":0},"axis":null}}},
{"mark":{"type":"text","text":"Study or Subgroup","align":"left","fontWeight":"bold"},"encoding":{"x":{"datum":6,"type":"quantitative","scale":{"domain":[0,534],"range":[0,534],"nice":false,"zero":false},"axis":null}}},
{"mark":{"type":"text","text":"Mean","align":"right","fontWeight":"bold"},"encoding":{"x":{"datum":97,"type":"quantitative","scale":{"domain":[0,534],"range":[0,534],"nice":false,"zero":false},"axis":null}}},
{"mark":{"type":"text","text":"SD","align":"right","fontWeight":"bold"},"encoding":{"x":{"datum":125,"type":"quantitative","scale":{"domain":[0,534],"range":[0,534],"nice":false,"zero":false},"axis":null}}},
{"mark":{"type":"text","text":"Total","align":"right","fontWeight":"bold"},"encoding":{"x":{"datum":144,"type":"quantitative","scale":{"domain":[0,534],"range":[0,534],"nice":false,"zero":false},"axis":null}}},
{"mark":{"type":"text","text":"Mean","align":"right","fontWeight":"bold"},"encoding":{"x":{"datum":199.5,"type":"quantitative","scale":{"domain":[0,534],"range":[0,534],"nice":false,"zero":false},"axis":null}}},
{"mark":{"type":"text","text":"SD","align":"right","fontWeight":"bold"},"encoding":{"x":{"datum":237,"type":"quantitative","scale":{"domain":[0,534],"range":[0,534],"nice":false,"zero":false},"axis":null}}},
{"mark":{"type":"text","text":"Total","align":"right","fontWeight":"bold"},"encoding":{"x":{"datum":269,"type":"quantitative","scale":{"domain":[0,534],"range":[0,534],"nice":false,"zero":false},"axis":null}}},
{"mark":{"type":"text","text":"Weight","align":"right","fontWeight":"bold"},"encoding":{"x":{"datum":297,"type":"quantitative","scale":{"domain":[0,534],"range":[0,534],"nice":false,"zero":false},"axis":null}}},
{"mark":{"type":"text","text":"IV, Random, 95% CI","align":"center","fontWeight":"bold"},"encoding":{"x":{"datum":336,"type":"quantitative","scale":{"domain":[0,534],"range":[0,534],"nice":false,"zero":false},"axis":null}}},
{"mark":{"type":"rule","color":"#000","strokeWidth":1,"yOffset":2.5},"encoding":{"x":{"datum":6,"type":"quantitative","scale":{"domain":[0,534],"range":[0,534],"nice":false,"zero":false},"axis":null},"x2":{"datum":527}}}
]}
]},
{"layer":[
{"data":{"values":[{}]},
"layer":[
{"mark":{"type":"rule","color":"#000","strokeWidth":1,"yOffset":2.5},"encoding":{"x":{"datum":0,"type":"quantitative","scale":{"domain":[-2.53,2.53],"range":[376,527],"nice":false,"zero":false},"axis":{"values":[-2,-1,0,1,2],"format":"~g","labelExpr":"replace(datum.label,'−','-')","title":null,"labelOverlap":false,"labelFlush":false}},"y":{"datum":"h2","type":"nominal","scale":{"type":"point","domain":["h1","h2","Li et al. 2017","Takagi et al. 2020","Wan et al.  2021","Zhu et al. 2020","gap","Total (95% CI)","het","test"],"range":[36.5,117],"padding":0},"axis":null},"y2":{"value":"height"}}},
{"mark":{"type":"text","text":"Std. Mean Difference","align":"center","fontWeight":"bold"},"encoding":{"x":{"datum":0,"type":"quantitative","scale":{"domain":[-2.53,2.53],"range":[376,527],"nice":false,"zero":false}},"y":{"datum":"h1","type":"nominal","scale":{"type":"point","domain":["h1","h2","Li et al. 2017","Takagi et al. 2020","Wan et al.  2021","Zhu et al. 2020","gap","Total (95% CI)","het","test"],"range":[36.5,117],"padding":0},"axis":null}}},
{"mark":{"type":"text","text":"IV, Random, 95% CI","align":"center","fontWeight":"bold"},"encoding":{"x":{"datum":0,"type":"quantitative","scale":{"domain":[-2.53,2.53],"range":[376,527],"nice":false,"zero":false}},"y":{"datum":"h2","type":"nominal","scale":{"type":"point","domain":["h1","h2","Li et al. 2017","Takagi et al. 2020","Wan et al.  2021","Zhu et al. 2020","gap","Total (95% CI)","het","test"],"range":[36.5,117],"padding":0},"axis":null}}},
{"mark":{"type":"text","text":"Experimental","align":"right","dx":-4,"dy":14},"encoding":{"x":{"datum":0,"type":"quantitative","scale":{"domain":[-2.53,2.53],"range":[376,527],"nice":false,"zero":false}},"y":{"value":"height"}}},
{"mark":{"type":"text","text":"Control","align":"left","dx":4,"dy":14},"encoding":{"x":{"datum":0,"type":"quantitative","scale":{"domain":[-2.53,2.53],"range":[376,527],"nice":false,"zero":false}},"y":{"value":"height"}}}
]},
{"data":{"name":"studies"},"transform":[{"filter":"datum.panel==='D'"}],
"encoding":{"y":{"field":"study","type":"nominal","scale":{"type":"point","domain":["h1","h2","Li et al. 2017","Takagi et al. 2020","Wan et al.  2021","Zhu et al. 2020","gap","Total (95% CI)","het","test"],"range":[36.5,117],"padding":0},"axis":null}},
"layer":[
{"mark":{"type":"rule","color":"#333","strokeWidth":1},"encoding":{"x":{"field":"lo","type":"quantitative","scale":{"domain":[-2.53,2.53],"range":[376,527],"nice":false,"zero":false}},"x2":{"field":"hi"}}},
{"mark":{"type":"point","shape":"square","filled":true,"color":"#00b400","opacity":1},"encoding":{"x":{"field":"smd","type":"quantitative","scale":{"domain":[-2.53,2.53],"range":[376,527],"nice":false,"zero":false}},"size":{"field":"w","type":"quantitative","scale":{"domain":[0.1,0.31],"range":[1,20],"zero":false},"legend":null}}}
]},
{"data":{"name":"totals"},"transform":[{"filter":"datum.panel==='D'"}],
"mark":{"type":"point","shape":"M-1,0L0,-0.346L1,0L0,0.346Z","filled":true,"color":"#000","opacity":1,"size":364},
"encoding":{"x":{"field":"smd","type":"quantitative","scale":{"domain":[-2.53,2.53],"range":[376,527],"nice":false,"zero":false}},"y":{"field":"study","type":"nominal","scale":{"type":"point","domain":["h1","h2","Li et al. 2017","Takagi et al. 2020","Wan et al.  2021","Zhu et al. 2020","gap","Total (95% CI)","het","test"],"range":[36.5,117],"padding":0},"axis":null}}}
]}
]
}
],
"config":{
"view":{"stroke":null},
"text":{"font":"Liberation Sans","fontSize":6.8,"color":"#000"},
"axis":{"labelFont":"Liberation Sans","labelFontSize":6.8,"labelColor":"#000","domainColor":"#000","tickColor":"#000","tickSize":3,"labelPadding":1,"grid":false}
}
}
